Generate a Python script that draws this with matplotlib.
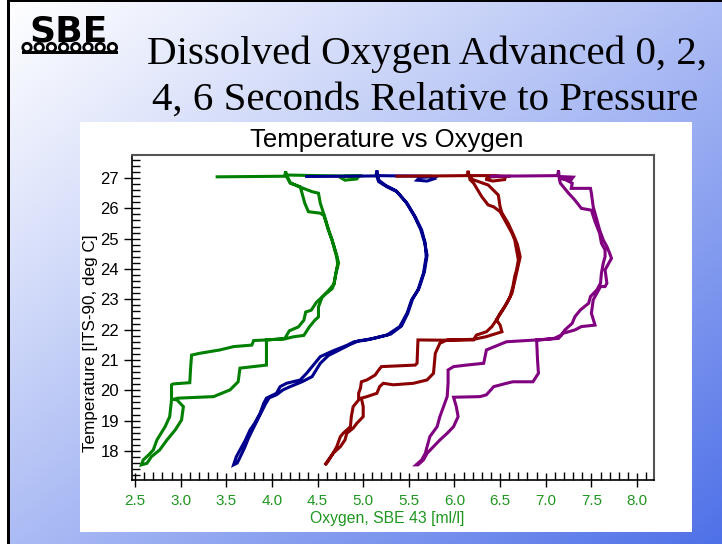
import numpy as np
import matplotlib
matplotlib.use("Agg")
import matplotlib.pyplot as plt
from matplotlib.patches import Rectangle, Circle
from matplotlib.ticker import MultipleLocator, FormatStrFormatter

# ---------------- data (oxygen ml/l, temperature deg C) ----------------
green = [(3.40, 27.04), (3.80, 27.05), (4.14, 27.06), (4.15, 27.22), (4.17, 27.00), (4.20, 26.83),
         (4.31, 26.71), (4.33, 26.50), (4.36, 26.17), (4.40, 25.89), (4.53, 25.84), (4.57, 25.76),
         (4.62, 25.27), (4.66, 24.94), (4.68, 24.72), (4.71, 24.39), (4.72, 24.17), (4.70, 23.84),
         (4.68, 23.51), (4.66, 23.35), (4.59, 23.18), (4.49, 22.91), (4.43, 22.64), (4.37, 22.58),
         (4.35, 22.31), (4.29, 22.09), (4.19, 21.96), (4.14, 21.70), (3.94, 21.66), (3.80, 21.64),
         (3.78, 21.49), (3.58, 21.44), (3.43, 21.33), (3.21, 21.22), (3.12, 21.16), (3.11, 20.78),
         (3.10, 20.25), (2.92, 20.21), (2.90, 20.18), (2.90, 19.68), (2.88, 19.13), (2.83, 18.80),
         (2.74, 18.36), (2.70, 18.03), (2.65, 17.87), (2.59, 17.70), (2.57, 17.54), (2.63, 17.59),
         (2.68, 17.81), (2.77, 18.03), (2.85, 18.36), (2.94, 18.69), (3.01, 19.02), (3.03, 19.46),
         (2.96, 19.68), (2.92, 19.70), (2.97, 19.74), (3.36, 19.79), (3.54, 20.01), (3.63, 20.28),
         (3.65, 20.73), (3.94, 20.83), (3.94, 21.66), (4.15, 21.70), (4.23, 21.76), (4.35, 21.81),
         (4.41, 22.09), (4.47, 22.31), (4.51, 22.42), (4.51, 22.75), (4.55, 23.07), (4.62, 23.29),
         (4.68, 23.50), (4.70, 23.85), (4.73, 24.20), (4.71, 24.45), (4.66, 24.95), (4.62, 25.30),
         (4.57, 25.80), (4.53, 26.17), (4.51, 26.50), (4.44, 26.55), (4.31, 26.70), (4.20, 26.85),
         (4.16, 27.10), (4.50, 27.08), (4.95, 27.06), (4.93, 26.97), (4.80, 26.93), (4.76, 27.00),
         (4.80, 27.06), (4.98, 27.07)]

blue = [(4.38, 27.05), (4.80, 27.06), (5.14, 27.07), (5.15, 27.25), (5.17, 26.93), (5.17, 26.88),
        (5.26, 26.71), (5.37, 26.55), (5.48, 26.17), (5.57, 25.72), (5.64, 25.29), (5.68, 24.85),
        (5.69, 24.41), (5.66, 23.86), (5.60, 23.31), (5.53, 22.98), (5.48, 22.54), (5.40, 22.10),
        (5.26, 21.82), (5.04, 21.66), (4.90, 21.60), (4.82, 21.48), (4.67, 21.30), (4.53, 21.11),
        (4.38, 20.56), (4.31, 20.34), (4.16, 20.23), (4.09, 20.12), (4.05, 19.90), (3.94, 19.74),
        (3.91, 19.57), (3.87, 19.24), (3.81, 18.91), (3.76, 18.69), (3.71, 18.36), (3.65, 18.03),
        (3.61, 17.81), (3.58, 17.54), (3.62, 17.60), (3.66, 17.85), (3.70, 18.10), (3.74, 18.40),
        (3.78, 18.65), (3.83, 18.95), (3.88, 19.25), (3.93, 19.55), (3.97, 19.75), (4.05, 19.85),
        (4.12, 20.01), (4.20, 20.12), (4.33, 20.28), (4.44, 20.45), (4.53, 20.89), (4.62, 21.15),
        (4.72, 21.30), (4.85, 21.50), (4.95, 21.63), (5.10, 21.70), (5.30, 21.85), (5.42, 22.12),
        (5.49, 22.55), (5.54, 23.00), (5.61, 23.35), (5.67, 23.90), (5.70, 24.45), (5.67, 24.90),
        (5.63, 25.30), (5.56, 25.75), (5.47, 26.20), (5.36, 26.58), (5.25, 26.75), (5.16, 26.95),
        (5.15, 27.08), (5.40, 27.07), (5.75, 27.06), (5.78, 26.98), (5.70, 26.90), (5.59, 26.93),
        (5.62, 27.02), (5.80, 27.05)]

red = [(5.37, 27.06), (5.80, 27.07), (6.14, 27.08), (6.15, 27.24), (6.17, 26.95), (6.21, 26.83),
       (6.30, 26.38), (6.37, 26.11), (6.43, 26.05), (6.50, 25.89), (6.57, 25.51), (6.63, 25.18),
       (6.66, 24.96), (6.68, 24.63), (6.70, 24.30), (6.68, 23.97), (6.66, 23.75), (6.64, 23.42),
       (6.61, 23.09), (6.55, 22.76), (6.50, 22.54), (6.46, 22.32), (6.41, 22.10), (6.35, 21.93),
       (6.24, 21.82), (6.21, 21.66), (5.92, 21.65), (5.60, 21.66), (5.59, 20.89), (5.57, 20.83),
       (5.20, 20.78), (5.17, 20.67), (5.13, 20.50), (5.04, 20.34), (4.98, 20.28), (4.97, 20.07),
       (4.95, 19.90), (4.95, 19.68), (4.89, 19.46), (4.87, 19.13), (4.86, 18.80), (4.78, 18.58),
       (4.75, 18.47), (4.71, 18.14), (4.66, 17.87), (4.60, 17.59), (4.58, 17.54), (4.67, 17.92),
       (4.75, 18.14), (4.80, 18.36), (4.82, 18.58), (4.89, 18.75), (4.93, 18.91), (5.00, 19.13),
       (5.00, 19.46), (4.98, 19.74), (5.04, 19.79), (5.15, 19.90), (5.18, 20.12), (5.22, 20.23),
       (5.33, 20.18), (5.55, 20.23), (5.70, 20.34), (5.77, 20.56), (5.79, 21.22), (5.84, 21.55),
       (5.92, 21.66), (6.21, 21.68), (6.35, 21.77), (6.52, 21.93), (6.50, 22.15), (6.46, 22.32),
       (6.52, 22.60), (6.58, 22.90), (6.63, 23.20), (6.66, 23.60), (6.69, 24.00), (6.72, 24.40),
       (6.69, 24.80), (6.65, 25.10), (6.59, 25.50), (6.52, 25.85), (6.50, 26.05), (6.48, 26.44),
       (6.37, 26.77), (6.20, 26.95), (6.16, 27.08), (6.45, 27.08), (6.56, 27.05), (6.55, 26.95),
       (6.42, 26.90), (6.34, 26.96), (6.40, 27.04), (6.60, 27.06)]

purple = [(6.40, 27.06), (6.80, 27.07), (7.13, 27.08), (7.14, 27.25), (7.15, 26.95), (7.16, 26.83),
          (7.25, 26.50), (7.32, 26.27), (7.39, 26.00), (7.50, 25.94), (7.54, 25.56), (7.59, 25.18),
          (7.61, 24.85), (7.65, 24.63), (7.65, 24.41), (7.63, 24.19), (7.61, 23.86), (7.60, 23.53),
          (7.56, 23.31), (7.49, 23.09), (7.47, 22.87), (7.38, 22.65), (7.32, 22.43), (7.29, 22.21),
          (7.21, 21.99), (7.17, 21.82), (7.09, 21.71), (6.94, 21.66), (6.90, 21.66), (6.57, 21.60),
          (6.35, 21.33), (6.32, 20.89), (6.13, 20.83), (5.99, 20.78), (5.93, 20.67), (5.93, 20.23),
          (5.92, 19.79), (5.88, 19.46), (5.84, 19.13), (5.81, 18.80), (5.73, 18.47), (5.70, 18.14),
          (5.68, 17.92), (5.64, 17.70), (5.58, 17.54), (5.60, 17.54), (5.66, 17.70), (5.70, 17.92),
          (5.77, 18.14), (5.84, 18.36), (5.92, 18.58), (5.99, 18.80), (6.04, 19.13), (6.02, 19.46),
          (5.99, 19.77), (6.28, 19.79), (6.35, 19.85), (6.43, 20.12), (6.57, 20.23), (6.64, 20.28),
          (6.86, 20.28), (6.92, 20.56), (6.91, 21.00), (6.90, 21.66), (6.94, 21.67), (7.14, 21.71),
          (7.19, 21.88), (7.32, 21.99), (7.39, 22.10), (7.54, 22.15), (7.50, 22.54), (7.52, 22.98),
          (7.56, 23.20), (7.60, 23.42), (7.65, 23.42), (7.67, 23.53), (7.65, 23.97), (7.69, 24.19),
          (7.72, 24.35), (7.70, 24.52), (7.67, 24.74), (7.63, 24.96), (7.59, 25.29), (7.56, 25.62),
          (7.52, 26.05), (7.50, 26.50), (7.49, 26.66), (7.28, 26.66), (7.29, 26.83), (7.15, 27.05),
          (7.30, 27.03), (7.28, 26.95), (7.18, 26.97), (7.14, 27.08)]

series = [green, blue, red, purple]
colors = ["#008000", "#00008c", "#8b0000", "#800080"]

x_ticks = [2.5, 3.0, 3.5, 4.0, 4.5, 5.0, 5.5, 6.0, 6.5, 7.0, 7.5, 8.0]
y_ticks = [18, 19, 20, 21, 22, 23, 24, 25, 26, 27]

slide_title = ["Dissolved Oxygen Advanced 0, 2,", "4, 6 Seconds Relative to Pressure"]
chart_title = "Temperature vs Oxygen"
x_label = "Oxygen, SBE 43 [ml/l]"
y_label = "Temperature [ITS-90, deg C]"
logo_text = "SBE"

# ---------------- figure ----------------
W, H = 722, 544
fig = plt.figure(figsize=(W / 100, H / 100), dpi=100)

bg = fig.add_axes([0, 0, 1, 1], zorder=-10)
yy, xx = np.mgrid[0:H, 0:W]
s = (xx / W + yy / H) / 2.0
tt = np.clip(s, 0, 1) ** 1.1
c0 = np.array([1.0, 1.0, 1.0])
c1 = np.array([78, 112, 232]) / 255.0
img = (1 - tt)[..., None] * c0 + tt[..., None] * c1
bg.imshow(img, extent=[0, W, H, 0], aspect="auto", interpolation="bilinear")
bg.set_xlim(0, W)
bg.set_ylim(H, 0)
bg.axis("off")

bg.add_patch(Rectangle((0, 0), 7, H, facecolor="white", edgecolor="none"))
bg.add_patch(Rectangle((7, 0), 3, H, facecolor="black", edgecolor="none"))
bg.add_patch(Rectangle((7, 0), W - 7, 2, facecolor="black", edgecolor="none"))
bg.add_patch(Rectangle((80, 122), 612, 410, facecolor="white", edgecolor="none"))

# logo
bg.text(69, 42, logo_text, fontsize=26, fontweight="heavy", family="DejaVu Sans",
        color="black", va="baseline", ha="center")
bg.add_patch(Rectangle((22, 51), 96, 3, facecolor="black", edgecolor="none"))
for cx in np.arange(27, 118, 12.2):
    bg.add_patch(Circle((cx, 47.5), 4.2, facecolor="white", edgecolor="black", lw=2.0))

bg.text(147, 64, slide_title[0], fontsize=29.5, family="Liberation Serif",
        color="black", va="baseline", ha="left")
bg.text(152, 110, slide_title[1], fontsize=29.5, family="Liberation Serif",
        color="black", va="baseline", ha="left")

# main axes
ax = fig.add_axes([132 / W, 1 - 480 / H, 522 / W, 325 / H])
ax.set_facecolor("white")
for pts, col in zip(series, colors):
    o, t = zip(*pts)
    ax.plot(o, t, color=col, lw=2.2, solid_joinstyle="miter")

ax.set_xlim(2.467, 8.186)
ax.set_ylim(17.04, 27.76)
ax.set_xticks(x_ticks)
ax.set_yticks(y_ticks)
ax.xaxis.set_major_formatter(FormatStrFormatter("%.1f"))
ax.yaxis.set_major_formatter(FormatStrFormatter("%d"))
ax.xaxis.set_minor_locator(MultipleLocator(0.1))
ax.yaxis.set_minor_locator(MultipleLocator(0.2))

ax.tick_params(axis="y", which="major", direction="inout", length=11.5, width=1.0,
               color="black", labelsize=12, labelcolor="black", pad=3.5)
ax.tick_params(axis="x", which="major", direction="inout", length=10, width=1.0,
               color="black", labelsize=11, labelcolor="#1f961f", pad=5)
ax.tick_params(axis="both", which="minor", direction="in", length=5.8, width=1.0, color="black")
for lab in ax.get_xticklabels() + ax.get_yticklabels():
    lab.set_family("Liberation Sans")

for side in ["left", "bottom"]:
    ax.spines[side].set_color("black")
    ax.spines[side].set_linewidth(1.2)
for side in ["top", "right"]:
    ax.spines[side].set_color("#555555")
    ax.spines[side].set_linewidth(1.5)

ax.set_title(chart_title, fontsize=18.5, family="Liberation Sans", color="black",
             x=0.487, pad=6)
ax.set_xlabel(x_label, fontsize=11.3, family="Liberation Sans", color="#1f961f")
ax.xaxis.set_label_coords(0.488, -0.095)
ax.set_ylabel(y_label, fontsize=12.3, family="Liberation Sans", color="black")
ax.yaxis.set_label_coords(-0.066, 0.42)

fig.savefig("out.png", dpi=100)
